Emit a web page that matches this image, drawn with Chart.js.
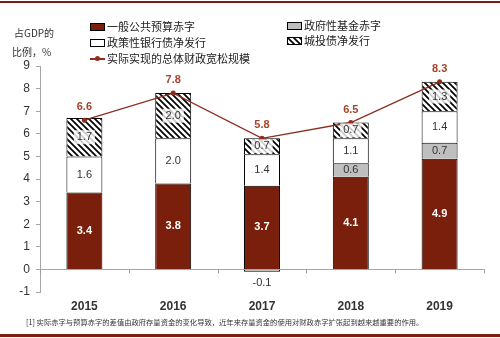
<!DOCTYPE html>
<html><head><meta charset="utf-8">
<script src="https://cdn.jsdelivr.net/npm/chart.js@4.4.1/dist/chart.umd.min.js"></script>
<style>
html,body{margin:0;padding:0;background:#fff;}
#wrap{position:relative;width:500px;height:338px;overflow:hidden;font-family:"Noto Sans CJK SC","Noto Sans",sans-serif;}
#c{position:absolute;left:0;top:0;}
.topline{position:absolute;left:0;top:1px;width:500px;height:2px;background:#7a1f14;}
.botline{position:absolute;left:0;top:334px;width:500px;height:3px;background:#7a1f14;}
.leg{position:absolute;font-size:11px;color:#222;line-height:13px;white-space:nowrap;}
.sw{display:inline-block;width:13px;height:6px;border:1px solid #000;vertical-align:middle;margin-right:2px;position:relative;top:-1px;}
.ytitle{position:absolute;font-size:10px;color:#333;line-height:12px;}
.foot{position:absolute;left:26px;top:317px;font-size:7.3px;color:#333;white-space:nowrap;}
</style></head>
<body>
<div id="wrap">
<canvas id="c" width="500" height="338"></canvas>
<div class="topline"></div>
<div class="botline"></div>
<div class="ytitle" style="left:14px;top:27px;">占GDP的</div>
<div class="ytitle" style="left:12px;top:46px;">比例，%</div>
<div class="leg" style="left:90px;top:20px;"><span class="sw" style="background:#7a1f0b"></span>一般公共预算赤字</div>
<div class="leg" style="left:90px;top:36px;"><span class="sw" style="background:#fff"></span>政策性银行债净发行</div>
<div class="leg" style="left:90px;top:52px;"><span style="display:inline-block;width:15px;height:8px;position:relative;vertical-align:middle;margin-right:2px;top:-1px;"><span style="position:absolute;left:0;top:3px;width:15px;height:2px;background:#8b2e1f"></span><span style="position:absolute;left:5px;top:1px;width:5px;height:5px;border-radius:50%;background:#8b2e1f"></span></span>实际实现的总体财政宽松规模</div>
<div class="leg" style="left:287px;top:19px;"><span class="sw" style="background:#bfbfbf"></span>政府性基金赤字</div>
<div class="leg" style="left:287px;top:34px;"><span class="sw" id="hsw"></span>城投债净发行</div>
<div class="foot">[1] 实际赤字与预算赤字的差值由政府存量资金的变化导致，近年来存量资金的使用对财政赤字扩张起到越来越重要的作用。</div>
</div>
<script>
const categories = ['2015','2016','2017','2018','2019'];
const generalBudgetDeficit = [3.4, 3.8, 3.7, 4.1, 4.9];
const govFundDeficit = [null, null, -0.1, 0.6, 0.7];
const policyBankBonds = [1.6, 2.0, 1.4, 1.1, 1.4];
const lgfvBonds = [1.7, 2.0, 0.7, 0.7, 1.3];
const totalEasing = [6.6, 7.8, 5.8, 6.5, 8.3];
const yTicks = [-1,0,1,2,3,4,5,6,7,8,9];

function makeHatch(){
  const p=document.createElement('canvas'); p.width=6; p.height=6;
  const g=p.getContext('2d');
  g.fillStyle='#fff'; g.fillRect(0,0,6,6);
  g.strokeStyle='#000'; g.lineWidth=1.7;
  g.beginPath();
  g.moveTo(-1,-1); g.lineTo(7,7);
  g.moveTo(-4,2); g.lineTo(4,10);
  g.moveTo(2,-4); g.lineTo(10,4);
  g.stroke();
  return p;
}
const hatchCanvas = makeHatch();
const ctx = document.getElementById('c').getContext('2d');
const hatch = ctx.createPattern(hatchCanvas,'repeat');
document.getElementById('hsw').style.backgroundImage='url('+hatchCanvas.toDataURL()+')';

const labelPlugin = {
  id:'labels',
  afterDatasetsDraw(chart){
    const c=chart.ctx;
    const ys=chart.scales.y, xs=chart.scales.x;
    const y0=ys.getPixelForValue(0);
    c.save();
    c.strokeStyle='#999'; c.lineWidth=1;
    for(let i=0;i<=categories.length;i++){
      const x=Math.round(xs.getPixelForValue(i-0.5))+0.5;
      c.beginPath(); c.moveTo(x,y0); c.lineTo(x,y0+4); c.stroke();
    }
    c.restore();
    chart.data.datasets.forEach((ds,di)=>{
      const meta=chart.getDatasetMeta(di);
      if(meta.hidden) return;
      meta.data.forEach((el,i)=>{
        const v=ds.data[i];
        if(v===null||v===undefined) return;
        c.save();
        c.textAlign='center'; c.textBaseline='middle';
        if(ds.type==='line'){
          c.font='bold 11px "Liberation Sans", sans-serif';
          c.fillStyle='#a8432b';
          c.fillText(v.toFixed(1), el.x, el.y-13);
        } else {
          let y=(el.y+el.base)/2;
          if(v<0){ y=el.y+11; }
          c.font=(ds.kind==='dark'?'bold ':'')+'11px "Liberation Sans", sans-serif';
          const t=v.toFixed(1);
          if(ds.kind==='hatch'){
            const w=c.measureText(t).width+6;
            c.fillStyle='rgba(255,255,255,0.8)';
            c.fillRect(el.x-w/2, y-7, w, 14);
          }
          c.fillStyle = ds.kind==='dark' ? '#ffffff' : '#333';
          c.fillText(t, el.x, y);
        }
        c.restore();
      });
    });
  }
};

new Chart(ctx,{
  data:{
    labels:categories,
    datasets:[
      {type:'line', label:'实际实现的总体财政宽松规模', data:totalEasing, borderColor:'#8b2e1f', backgroundColor:'#8b2e1f', borderWidth:1.3, pointRadius:2.5, pointBackgroundColor:'#8b2e1f', pointBorderWidth:0, order:0, tension:0},
      {type:'bar', kind:'dark', label:'一般公共预算赤字', data:generalBudgetDeficit, backgroundColor:'#7a1f0b', borderColor:'#000', borderWidth:1, stack:'s', order:1},
      {type:'bar', kind:'gray', label:'政府性基金赤字', data:govFundDeficit, backgroundColor:'#bfbfbf', borderColor:'#000', borderWidth:1, stack:'s', order:1},
      {type:'bar', kind:'white', label:'政策性银行债净发行', data:policyBankBonds, backgroundColor:'#ffffff', borderColor:'#000', borderWidth:1, stack:'s', order:1},
      {type:'bar', kind:'hatch', label:'城投债净发行', data:lgfvBonds, backgroundColor:hatch, borderColor:'#000', borderWidth:1, stack:'s', order:1}
    ]
  },
  options:{
    responsive:false, animation:false,
    devicePixelRatio:1,
    layout:{padding:{top:66,right:16,left:0,bottom:0}},
    datasets:{bar:{categoryPercentage:1, barPercentage:0.405}},
    plugins:{legend:{display:false}, tooltip:{enabled:false}},
    scales:{
      x:{stacked:true, grid:{display:false, drawTicks:false}, border:{display:false},
         ticks:{padding:7, color:'#333', font:{family:'"Liberation Sans", sans-serif', size:12, weight:'bold'}},
         afterFit(s){ s.height=46; }},
      y:{stacked:true, min:-1, max:9,
         afterBuildTicks(s){ s.ticks = yTicks.map(v=>({value:v})); },
         afterFit(s){ s.width=40; },
         grid:{drawOnChartArea:true, color:(c)=> c.tick && c.tick.value===0 ? '#a6a6a6':'rgba(0,0,0,0)', tickColor:'#a6a6a6', tickLength:4},
         border:{display:true, color:'#a6a6a6'},
         ticks:{padding:6, color:'#333', font:{family:'"Liberation Sans", sans-serif', size:12}}}
    }
  },
  plugins:[labelPlugin]
});
</script>
</body></html>
